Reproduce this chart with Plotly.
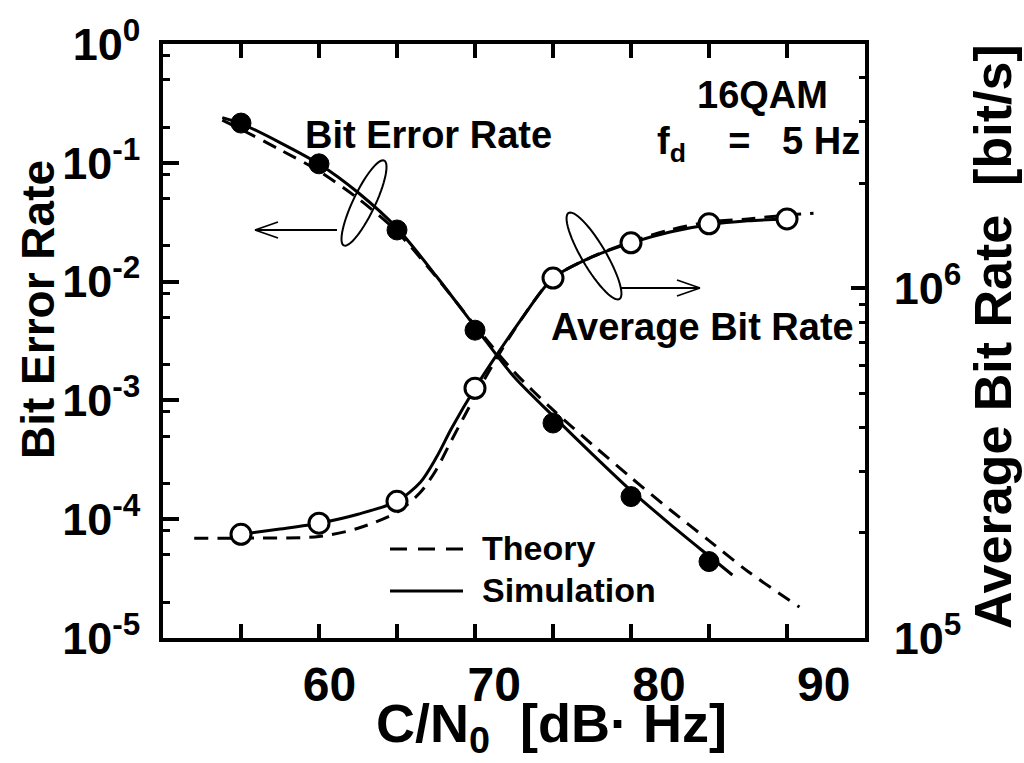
import numpy as np
import plotly.graph_objects as go

# ---------------- data ----------------
# C/N0 [dB-Hz] of the simulated points
cn0_points = [55, 60, 65, 70, 75, 80, 85, 90]

# Bit error rate: simulation points (55..85 dB-Hz)
ber_points = [0.216, 0.098, 0.0272, 3.9e-3, 6.45e-4, 1.55e-4, 4.4e-5]

# Bit error rate: simulation curve
ber_sim_x = [53.8, 55, 57.5, 60, 62.5, 65, 67.5, 70, 72.5, 75, 77.5, 80, 82.5, 85, 86.5]
ber_sim_y = [0.240, 0.214, 0.148, 0.0977, 0.0562, 0.0282, 0.0112, 4.17e-3, 1.58e-3,
             7.41e-4, 3.55e-4, 1.74e-4, 9.1e-5, 4.9e-5, 3.39e-5]

# Bit error rate: theory curve
ber_th_x = [53.8, 55, 57.5, 60, 62.5, 65, 67.5, 70, 72.5, 75, 77.5, 80, 82.5, 85, 87.5, 90.8]
ber_th_y = [0.229, 0.191, 0.129, 0.0851, 0.0501, 0.0263, 0.011, 4.27e-3, 1.74e-3,
            8.32e-4, 4.27e-4, 2.24e-4, 1.2e-4, 6.61e-5, 3.63e-5, 1.82e-5]

# Average bit rate [bit/s]: simulation points (55..90 dB-Hz)
abr_points = [1.98e5, 2.13e5, 2.46e5, 5.18e5, 1.07e6, 1.35e6, 1.53e6, 1.58e6]

# Average bit rate: simulation curve
abr_sim_x = [55, 57.5, 60, 62.5, 65, 66.5, 67.5, 68.5, 70, 71.5, 73, 75, 77.5, 80, 82.5, 85, 87.5, 90]
abr_sim_y = [1.98e5, 2.05e5, 2.13e5, 2.26e5, 2.46e5, 2.79e5, 3.27e5, 3.98e5, 5.18e5,
             6.56e5, 8.2e5, 1.07e6, 1.23e6, 1.35e6, 1.45e6, 1.52e6, 1.56e6, 1.58e6]

# Average bit rate: theory curve
abr_th_x = [52, 55, 60, 62.5, 65, 66.5, 67.5, 68.5, 70, 71.5, 73, 75, 77.5, 80, 82.5, 85, 87.5, 90, 91.7]
abr_th_y = [1.93e5, 1.93e5, 1.95e5, 2.06e5, 2.29e5, 2.61e5, 3.02e5, 3.68e5, 4.91e5, 6.44e5,
            8.2e5, 1.07e6, 1.23e6, 1.36e6, 1.47e6, 1.55e6, 1.58e6, 1.62e6, 1.64e6]

# Axis ticks
x_ticks = [55, 60, 65, 70, 75, 80, 85, 90]
x_labels = ["60", "70", "80", "90"]
x_label_vals = [60, 70, 80, 90]
ber_ticks = [1e-5, 1e-4, 1e-3, 1e-2, 1e-1, 1e0]
ber_labels = ["10<sup>-5</sup>", "10<sup>-4</sup>", "10<sup>-3</sup>",
              "10<sup>-2</sup>", "10<sup>-1</sup>", "10<sup>0</sup>"]
ber_minor = [m * 10.0 ** e for e in range(-5, 0) for m in (2, 5, 8)]
abr_ticks = [1e5, 1e6]
abr_labels = ["10<sup>5</sup>", "10<sup>6</sup>"]
abr_minor = [m * 1e5 for m in range(2, 10)] + [2e6, 3e6, 4e6]

# ---------------- style ----------------
FONT = "Liberation Sans, Arial, Helvetica, sans-serif"
BLACK = "#000000"
DASH = "14px,9px"

# plot frame in pixels
L, R, T, B = 163, 865, 44, 638
W, H = 1024, 763


def to_paper(px, py):
    return (px - L) / (R - L), (B - py) / (B - T)


fig = go.Figure()

# Bit error rate (left axis)
fig.add_trace(go.Scatter(x=ber_th_x, y=ber_th_y, mode="lines", name="Theory BER",
                         line=dict(color=BLACK, width=3, dash=DASH, shape="spline", smoothing=0.8)))
fig.add_trace(go.Scatter(x=ber_sim_x, y=ber_sim_y, mode="lines", name="Simulation BER",
                         line=dict(color=BLACK, width=3, shape="spline", smoothing=0.8)))
fig.add_trace(go.Scatter(x=cn0_points[:len(ber_points)], y=ber_points, mode="markers",
                         name="BER points",
                         marker=dict(symbol="circle", size=20, color=BLACK,
                                     line=dict(color=BLACK, width=1))))

# Average bit rate (right axis)
fig.add_trace(go.Scatter(x=abr_th_x, y=abr_th_y, mode="lines", yaxis="y2", name="Theory ABR",
                         line=dict(color=BLACK, width=3, dash=DASH, shape="spline", smoothing=0.8)))
fig.add_trace(go.Scatter(x=abr_sim_x, y=abr_sim_y, mode="lines", yaxis="y2", name="Simulation ABR",
                         line=dict(color=BLACK, width=3, shape="spline", smoothing=0.8)))
fig.add_trace(go.Scatter(x=cn0_points, y=abr_points, mode="markers", yaxis="y2",
                         name="ABR points",
                         marker=dict(symbol="circle", size=20, color="white",
                                     line=dict(color=BLACK, width=3))))

# placeholder so the tick-number axis is drawn
fig.add_trace(go.Scatter(x=[60], y=[None], xaxis="x2", mode="markers",
                         showlegend=False, hoverinfo="skip"))

tickfont = dict(family=FONT, size=45, color=BLACK, weight="bold")

fig.update_layout(
    width=W, height=H,
    margin=dict(l=L, r=W - R, t=T, b=H - B),
    paper_bgcolor="white", plot_bgcolor="white",
    showlegend=False,
    xaxis=dict(range=[50, 95], tickvals=x_ticks, showticklabels=False,
               ticks="inside", ticklen=14, tickwidth=3.5, tickcolor=BLACK,
               showline=True, linewidth=3.5, linecolor=BLACK, mirror="ticks",
               showgrid=False, zeroline=False),
    xaxis2=dict(range=[49.9, 92.5], overlaying="x", anchor="y", side="bottom",
                tickvals=x_label_vals, ticktext=x_labels, ticks="",
                showline=False, showgrid=False, zeroline=False,
                tickfont=dict(family=FONT, size=48, color=BLACK, weight="bold"),
                ticklabelstandoff=14),
    yaxis=dict(type="log", range=[-5, 0], tickvals=ber_ticks, ticktext=ber_labels,
               ticks="inside", ticklen=16, tickwidth=3.5, tickcolor=BLACK,
               minor=dict(tickvals=ber_minor, ticks="inside", ticklen=7,
                          tickwidth=3, tickcolor=BLACK, showgrid=False),
               showline=True, linewidth=3.5, linecolor=BLACK,
               showgrid=False, zeroline=False, tickfont=tickfont,
               ticklabelstandoff=10),
    yaxis2=dict(type="log", range=[5, np.log10(5e6)], overlaying="y", side="right",
                anchor="x", tickvals=abr_ticks, ticktext=abr_labels,
                ticks="inside", ticklen=14, tickwidth=3.5, tickcolor=BLACK,
                minor=dict(tickvals=abr_minor, ticks="inside", ticklen=6,
                           tickwidth=3, tickcolor=BLACK, showgrid=False),
                showline=True, linewidth=3.5, linecolor=BLACK,
                showgrid=False, zeroline=False, tickfont=tickfont,
                ticklabelstandoff=16),
)

# ---------------- decorations: loops and arrows ----------------
def ellipse_path(cx, cy, a, b, ux, uy, n=60):
    norm = np.hypot(ux, uy)
    ux, uy = ux / norm, uy / norm
    vx, vy = -uy, ux
    pts = []
    for t in np.linspace(0, 2 * np.pi, n):
        px = cx + a * np.cos(t) * ux + b * np.sin(t) * vx
        py = cy + a * np.cos(t) * uy + b * np.sin(t) * vy
        pts.append(to_paper(px, py))
    return "M " + " L ".join(f"{x:.5f},{y:.5f}" for x, y in pts) + " Z"


def seg(x0, y0, x1, y1, width=1.8, dash=None):
    p0, p1 = to_paper(x0, y0), to_paper(x1, y1)
    line = dict(color=BLACK, width=width)
    if dash:
        line["dash"] = dash
    fig.add_shape(type="line", xref="paper", yref="paper",
                  x0=p0[0], y0=p0[1], x1=p1[0], y1=p1[1], line=line)


# loop and arrow pointing to the left axis (bit error rate)
fig.add_shape(type="path", xref="paper", yref="paper",
              path=ellipse_path(364, 203, 47, 11, 40, -84),
              line=dict(color=BLACK, width=2))
seg(337, 230, 255, 230)
seg(255, 230, 278, 222)
seg(255, 230, 278, 238)

# loop and arrow pointing to the right axis (average bit rate)
fig.add_shape(type="path", xref="paper", yref="paper",
              path=ellipse_path(594, 256, 50, 12, 52, 88),
              line=dict(color=BLACK, width=2))
seg(620, 288, 700, 288)
seg(700, 288, 677, 280)
seg(700, 288, 677, 296)

# legend
seg(390, 549, 463, 549, width=3, dash="17px,11px")
seg(390, 591, 463, 591, width=3)


def text(px, py, s, size=38, xanchor="center", yanchor="middle", angle=0):
    u, v = to_paper(px, py)
    fig.add_annotation(x=u, y=v, xref="paper", yref="paper", text=s, showarrow=False,
                       xanchor=xanchor, yanchor=yanchor, textangle=angle,
                       font=dict(family=FONT, size=size, color=BLACK, weight="bold"))


text(480, 548, "Theory", size=34, xanchor="left")
text(480, 590, "Simulation", size=34, xanchor="left")
text(428, 135, "Bit Error Rate", size=38)
text(702, 327, "Average Bit Rate", size=38)
text(830, 118, "16QAM", size=38, xanchor="right", yanchor="bottom")
text(862, 118, "f<sub>d</sub>&nbsp;&nbsp;&nbsp;&nbsp;=&nbsp;&nbsp;&nbsp;5 Hz", size=38,
     xanchor="right", yanchor="top")

# axis titles
text(38, 310, "Bit Error Rate", size=46, angle=-90)
text(993, 337, "Average Bit Rate&nbsp;&nbsp;[bit/s]", size=52, angle=-90)
text(551, 763, "C/N<sub>0</sub>&nbsp;&nbsp;[dB· Hz]", size=54, yanchor="bottom")

fig.write_html("out.html")
